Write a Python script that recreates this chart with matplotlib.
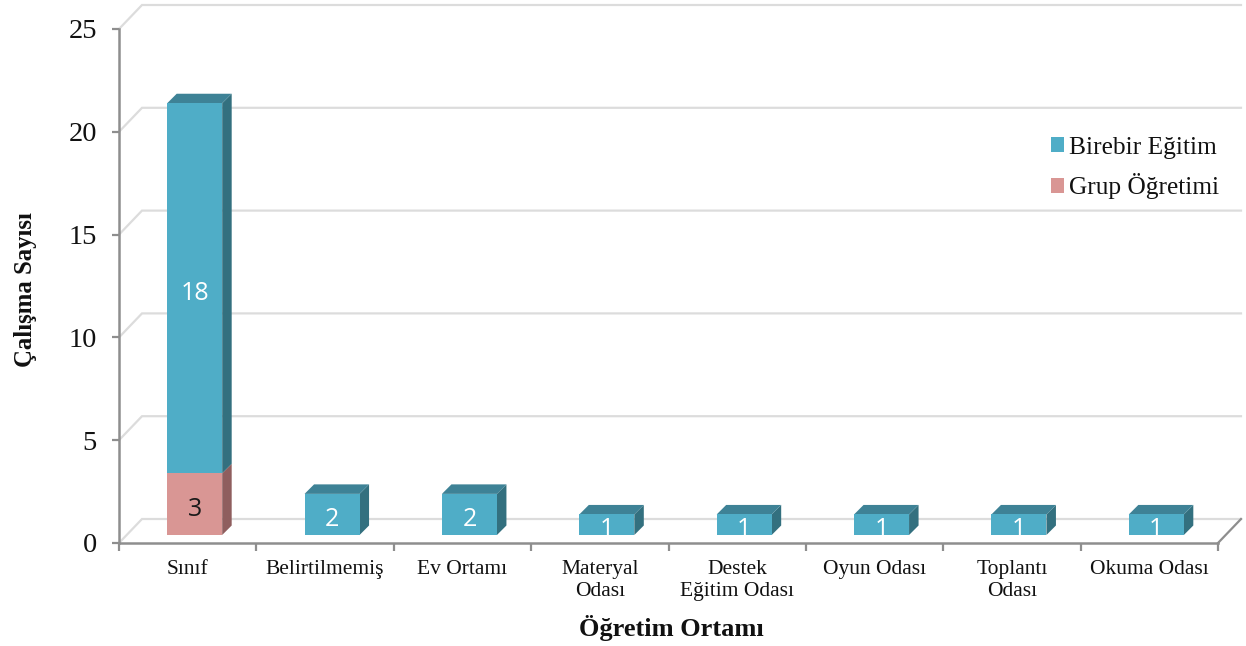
import matplotlib
matplotlib.use("Agg")
import matplotlib.pyplot as plt
from matplotlib.patches import Patch, Polygon

categories = ["Sınıf", "Belirtilmemiş", "Ev Ortamı", "Materyal\nOdası", "Destek\nEğitim Odası",
              "Oyun Odası", "Toplantı\nOdası", "Okuma Odası"]
birebir = [18, 2, 2, 1, 1, 1, 1, 1]
grup = [3, 0, 0, 0, 0, 0, 0, 0]
yticks = [0, 5, 10, 15, 20, 25]
series_names = ["Birebir Eğitim", "Grup Öğretimi"]

TEAL, TEAL_TOP, TEAL_SIDE = "#4FADC7", "#3E8296", "#33707F"
PINK, PINK_SIDE = "#D99694", "#8F5E5E"
GRID, AXIS = "#DCDCDC", "#8E8E8E"
SERIF = "Liberation Serif"

W, H = 1246, 646
L, R, B, T = 119, 1218, 543, 29
fig = plt.figure(figsize=(W / 100, H / 100), dpi=100)
ax = fig.add_axes([L / W, 1 - B / H, (R - L) / W, (B - T) / H])
n = len(categories)
ax.set_xlim(0, n)
ax.set_ylim(0, 25)
ux = n / (R - L)          # data units per pixel
uy = 25 / (B - T)

# back wall and left wall
wall_dx, wall_dy = 23 * ux, 24 * uy
for v in yticks:
    ax.plot([0, wall_dx, n + wall_dx], [v, v + wall_dy, v + wall_dy], color=GRID, lw=1.6,
            clip_on=False, zorder=1, solid_joinstyle="miter")
ax.plot([n, n + wall_dx], [0, wall_dy], color=AXIS, lw=1.6, clip_on=False, zorder=1.5)

# bars: offset into the floor, with side and top faces
front_dx, front_dy = 7 * ux, 8 * uy
depth_dx, depth_dy = 9.5 * ux, 9.5 * uy
bw = 55 * ux


def prism(i, base, height, face, side, top=None, label="", label_color="white"):
    x0 = i + 0.5 + front_dx - bw / 2
    x1 = x0 + bw
    y0 = base + front_dy
    y1 = y0 + height
    ax.bar(x0, height, width=bw, bottom=y0, align="edge", color=face, lw=0, zorder=3, clip_on=False)
    ax.add_patch(Polygon([(x1, y0), (x1 + depth_dx, y0 + depth_dy), (x1 + depth_dx, y1 + depth_dy), (x1, y1)],
                         closed=True, fc=side, lw=0, zorder=2.9, clip_on=False))
    if top:
        ax.add_patch(Polygon([(x0, y1), (x0 + depth_dx, y1 + depth_dy), (x1 + depth_dx, y1 + depth_dy), (x1, y1)],
                             closed=True, fc=top, lw=0, zorder=2.9, clip_on=False))
    if label:
        ax.text((x0 + x1) / 2, (y0 + y1) / 2 - 0.25, label, ha="center", va="center",
                color=label_color, fontsize=18, family="Open Sans", zorder=4)


for i, (b, g) in enumerate(zip(birebir, grup)):
    if g:
        prism(i, 0, g, PINK, PINK_SIDE, None, str(g), "#1A1A1A")
    prism(i, g, b, TEAL, TEAL_SIDE, TEAL_TOP, str(b), "white")

# axes
for s in ("top", "right"):
    ax.spines[s].set_visible(False)
for s in ("left", "bottom"):
    ax.spines[s].set_color(AXIS)
    ax.spines[s].set_linewidth(1.8)
    ax.spines[s].set_zorder(2)
ax.patch.set_alpha(0)
ax.set_yticks(yticks)
ax.tick_params(axis="y", length=5, width=1.6, color=AXIS, labelsize=20.5, pad=11, labelcolor="#111111")
ax.set_xticks(range(n + 1))
ax.set_xticklabels([""] * (n + 1))
ax.tick_params(axis="x", which="major", length=6, width=1.6, color=AXIS)
ax.set_xticks([i + 0.5 for i in range(n)], minor=True)
ax.set_xticklabels(categories, minor=True, fontsize=15.5, linespacing=1.22, color="#111111")
ax.tick_params(axis="x", which="minor", length=0, pad=12.5)
for t in ax.get_xticklabels(which="both") + ax.get_yticklabels():
    t.set_family(SERIF)

ax.set_xlabel("Öğretim Ortamı", family=SERIF, fontweight="bold", fontsize=19, color="#111111")
ax.xaxis.set_label_coords((671 - L) / (R - L), (B - 628) / (B - T), transform=ax.transAxes)
ax.xaxis.label.set_va("center")
ax.set_ylabel("Çalışma Sayısı", family=SERIF, fontweight="bold", fontsize=17.8, color="#111111")
ax.yaxis.set_label_coords((26 - L) / (R - L), (B - 290) / (B - T), transform=ax.transAxes)
ax.yaxis.label.set_va("center")

handles = [Patch(fc=TEAL, lw=0), Patch(fc=PINK, lw=0)]
leg = fig.legend(handles, series_names, loc="center left", bbox_to_anchor=(1051 / W, 1 - 168 / H),
                 frameon=False, borderpad=0, borderaxespad=0, handlelength=0.52, handleheight=0.52,
                 handletextpad=0.2, labelspacing=0.58, prop={"family": SERIF, "size": 18.3})
for t in leg.get_texts():
    t.set_color("#111111")

fig.savefig("out.png", dpi=100, facecolor="white")
